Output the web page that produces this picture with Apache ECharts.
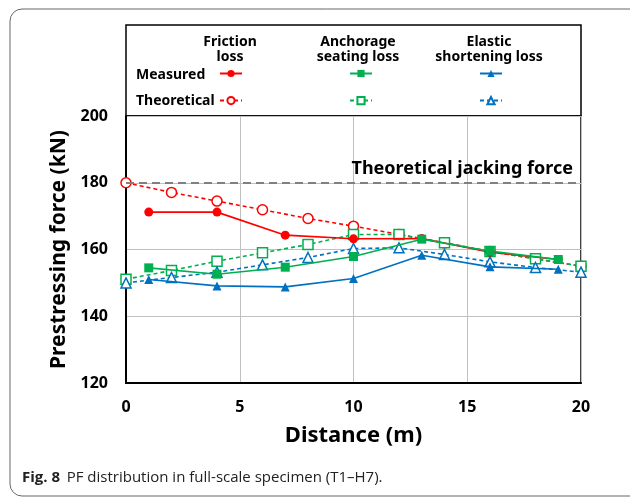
<!DOCTYPE html>
<html>
<head>
<meta charset="utf-8">
<script src="https://cdn.jsdelivr.net/npm/echarts@6/dist/echarts.min.js"></script>
<style>
  html, body { margin: 0; padding: 0; background: #fff; }
  #chart { width: 630px; height: 498px; }
</style>
</head>
<body>
<div id="chart"></div>
<script>
const measuredX = [1, 4, 7, 10, 13, 16, 19];
const theoryX = [0, 2, 4, 6, 8, 10, 12, 14, 16, 18, 20];

const frictionMeasured = [171.2, 171.2, 164.3, 163.2, 163.3, 159.2, 157.0];
const anchorageMeasured = [154.5, 152.6, 154.7, 157.9, 163.1, 159.5, 157.0];
const elasticMeasured = [151.0, 149.1, 148.8, 151.3, 158.3, 154.8, 154.1];

const frictionTheory = [180, 177.1, 174.5, 171.9, 169.3, 167.0, 164.5, 162.0, 159.4, 157.2, 155.0];
const anchorageTheory = [151.1, 153.7, 156.5, 159.0, 161.5, 164.5, 164.5, 162.0, 159.4, 157.2, 155.0];
const elasticTheory = [150.0, 151.6, 153.2, 155.4, 157.6, 160.3, 160.5, 158.5, 156.3, 154.6, 153.2];

const jackingForce = 180;
const xTicks = [0, 5, 10, 15, 20];
const yTicks = [120, 140, 160, 180, 200];

const RED = '#ff0000', GREEN = '#00b050', BLUE = '#0070c0';
const FONT = '"Noto Sans", sans-serif';

const pairs = (xs, ys) => xs.map((x, i) => [x, ys[i]]);

const measured = (name, color, symbol, ys) => ({
  name, type: 'line', data: pairs(measuredX, ys),
  symbol, symbolSize: 9,
  itemStyle: { color },
  lineStyle: { color, width: 1.6 },
  z: 4
});
const theory = (name, color, symbol, ys) => ({
  name, type: 'line', data: pairs(theoryX, ys),
  symbol, symbolSize: 10,
  itemStyle: { color: '#fff', borderColor: color, borderWidth: 1.5 },
  lineStyle: { color, width: 1.6, type: [4, 3] },
  z: 3
});

const series = [
  Object.assign(theory('Friction theoretical', RED, 'circle', frictionTheory), {
    markLine: {
      silent: true, symbol: 'none',
      lineStyle: { color: '#808080', width: 2, type: [8, 5] },
      label: {
        position: 'insideEndTop', distance: [8, 5],
        formatter: 'Theoretical jacking force',
        color: '#000', fontSize: 18, fontWeight: 'bold', fontFamily: FONT
      },
      data: [{ yAxis: jackingForce }]
    }
  }),
  measured('Friction measured', RED, 'circle', frictionMeasured),
  theory('Anchorage theoretical', GREEN, 'rect', anchorageTheory),
  measured('Anchorage measured', GREEN, 'rect', anchorageMeasured),
  theory('Elastic theoretical', BLUE, 'triangle', elasticTheory),
  measured('Elastic measured', BLUE, 'triangle', elasticMeasured)
];

const legendAt = (name, cx, cy) => ({
  data: [name], left: cx - 11, top: cy - 5, padding: 0,
  itemWidth: 22, itemHeight: 9, selectedMode: false,
  formatter: () => '', textStyle: { fontSize: 1 }
});

const txt = (text, x, y, align) => ({
  type: 'text', x, y,
  style: { text, fill: '#000', font: 'bold 14px ' + FONT, textAlign: align || 'center', textVerticalAlign: 'middle' }
});

const chart = echarts.init(document.getElementById('chart'));
chart.setOption({
  animation: false,
  textStyle: { fontFamily: FONT },
  grid: {
    left: 126, right: 49, top: 116, bottom: 115,
    show: true, borderColor: '#000', borderWidth: 1.5
  },
  legend: [
    legendAt('Friction measured', 230, 74),
    legendAt('Friction theoretical', 230, 101),
    legendAt('Anchorage measured', 360, 74),
    legendAt('Anchorage theoretical', 360, 101),
    legendAt('Elastic measured', 490, 74),
    legendAt('Elastic theoretical', 490, 101)
  ],
  xAxis: {
    type: 'value', min: xTicks[0], max: xTicks[xTicks.length - 1], interval: 5,
    name: 'Distance (m)', nameLocation: 'middle', nameGap: 42,
    nameTextStyle: { fontSize: 22, fontWeight: 'bold', color: '#000' },
    axisLine: { lineStyle: { color: '#000', width: 2 } },
    axisTick: { show: false },
    axisLabel: { margin: 16, fontSize: 16, fontWeight: 'bold', color: '#000' },
    splitLine: { show: true, lineStyle: { color: '#c0c0c0', width: 1 } }
  },
  yAxis: {
    type: 'value', min: yTicks[0], max: yTicks[yTicks.length - 1], interval: 20,
    name: 'Prestressing force (kN)', nameLocation: 'middle', nameGap: 56,
    nameTextStyle: { fontSize: 21, fontWeight: 'bold', color: '#000' },
    axisLine: { show: true, lineStyle: { color: '#000', width: 2 } },
    axisTick: { show: false },
    axisLabel: { margin: 18, fontSize: 16, fontWeight: 'bold', color: '#000' },
    splitLine: { show: true, lineStyle: { color: '#c0c0c0', width: 1 } }
  },
  graphic: [
    { type: 'rect', shape: { x: 10, y: 9, width: 700, height: 487, r: 12 },
      style: { fill: 'none', stroke: '#666', lineWidth: 1 }, z: -10 },
    { type: 'rect', shape: { x: 126, y: 25, width: 455, height: 91 },
      style: { fill: '#fff', stroke: '#000', lineWidth: 1.5 }, z: -1 },
    txt('Friction', 230, 42), txt('loss', 230, 57),
    txt('Anchorage', 358, 42), txt('seating loss', 358, 57),
    txt('Elastic', 489, 42), txt('shortening loss', 489, 57),
    txt('Measured', 136, 75, 'left'), txt('Theoretical', 136, 101, 'left'),
    { type: 'text', x: 22, y: 478,
      style: {
        text: '{b|Fig. 8}  {n|PF distribution in full-scale specimen (T1–H7).}',
        textVerticalAlign: 'middle',
        rich: {
          b: { font: 'bold 15px "Open Sans", sans-serif', fill: '#222' },
          n: { font: '15px "Open Sans", sans-serif', fill: '#222' }
        }
      } }
  ],
  series
});
</script>
</body>
</html>
